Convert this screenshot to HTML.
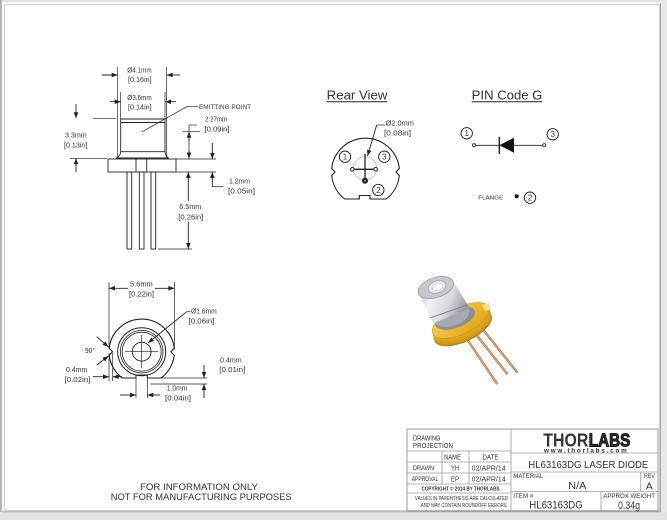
<!DOCTYPE html>
<html><head><meta charset="utf-8"><style>
html,body{margin:0;padding:0;background:#fff;}
svg{display:block;}
text{font-family:"Liberation Sans",sans-serif;fill:#333;}
</style></head><body>
<svg width="667" height="520" viewBox="0 0 667 520" xmlns="http://www.w3.org/2000/svg">
<defs>
<marker id="ar" viewBox="0 0 8 6" refX="8" refY="3" markerWidth="6.5" markerHeight="4.5" markerUnits="userSpaceOnUse" orient="auto"><path d="M0,0 L8,3 L0,6 z" fill="#222"/></marker>
<linearGradient id="capg" x1="0" y1="0" x2="1" y2="0.35">
<stop offset="0" stop-color="#b4b4bc"/><stop offset="0.35" stop-color="#f2f2f5"/><stop offset="0.7" stop-color="#d6d6dc"/><stop offset="1" stop-color="#9a9aa2"/>
</linearGradient>
<linearGradient id="goldt" x1="0" y1="0" x2="1" y2="1">
<stop offset="0" stop-color="#f7d35a"/><stop offset="0.6" stop-color="#eab52c"/><stop offset="1" stop-color="#d99a18"/>
</linearGradient>
</defs>

<!-- page frame -->
<rect x="0" y="0" width="667" height="520" fill="#fff"/>
<rect x="0" y="0" width="667" height="2" fill="#e2e2e2"/>
<rect x="0" y="0" width="2" height="520" fill="#b4b4b4"/>
<rect x="661" y="0" width="6" height="520" fill="#e8e8e8"/>
<rect x="0" y="512" width="667" height="8" fill="#e2e2e2"/>
<rect x="4.5" y="4.5" width="655" height="506" fill="none" stroke="#cfcfcf" stroke-width="1.2"/>
<line x1="660.5" y1="3" x2="660.5" y2="512" stroke="#a8a8a8" stroke-width="1"/>
<line x1="2" y1="511.8" x2="661" y2="511.8" stroke="#a8a8a8" stroke-width="1"/>

<g stroke="#222" stroke-width="0.9" fill="none">
<!-- ===== SIDE VIEW ===== -->
<path d="M120.7,119 H165 V151.7 Q165,155 168.3,158 H116.7 Q120.7,155 120.7,151.7 Z"/>
<line x1="120.7" y1="122.5" x2="165" y2="122.5"/>
<line x1="120.7" y1="151.7" x2="165" y2="151.7"/>
<rect x="108" y="159" width="68" height="13"/>
<line x1="136" y1="159" x2="136" y2="172"/>
<line x1="146.7" y1="159" x2="146.7" y2="172"/>
<rect x="127" y="172" width="4.7" height="77"/>
<rect x="139.3" y="172" width="4.7" height="77"/>
<rect x="151" y="172" width="4.7" height="77"/>
<!-- ext lines -->
<line x1="117.7" y1="67" x2="117.7" y2="158" stroke-width="0.7"/>
<line x1="166.7" y1="67" x2="166.7" y2="158" stroke-width="0.7"/>
<line x1="120.7" y1="92" x2="120.7" y2="119" stroke-width="0.7"/>
<line x1="165" y1="92" x2="165" y2="119" stroke-width="0.7"/>
<line x1="101.7" y1="75" x2="117.7" y2="75" marker-end="url(#ar)"/>
<line x1="180" y1="75" x2="166.7" y2="75" marker-end="url(#ar)"/>
<line x1="110" y1="101.7" x2="120.7" y2="101.7" marker-end="url(#ar)"/>
<line x1="176" y1="101.7" x2="165" y2="101.7" marker-end="url(#ar)"/>
<!-- emitting point -->
<polyline points="141.7,132 186.7,106.7 198,106.7" stroke-width="0.7"/>
<!-- 2.27 -->
<line x1="189" y1="125" x2="189" y2="158" stroke-width="0.7"/>
<line x1="189" y1="125" x2="197" y2="125" stroke-width="0.7"/>
<line x1="183" y1="131.7" x2="200" y2="131.7" stroke-width="0.7"/>
<line x1="189" y1="141" x2="189" y2="131.7" marker-end="url(#ar)"/>
<line x1="189" y1="150" x2="189" y2="158.5" marker-end="url(#ar)"/>
<!-- flange ext -->
<line x1="176" y1="159" x2="216" y2="159" stroke-width="0.7"/>
<line x1="176" y1="172" x2="216" y2="172" stroke-width="0.7"/>
<!-- 1.2 -->
<line x1="212.3" y1="143" x2="212.3" y2="159" marker-end="url(#ar)"/>
<line x1="212.3" y1="186.7" x2="212.3" y2="172" marker-end="url(#ar)"/>
<line x1="212.3" y1="186.7" x2="223.3" y2="186.7" stroke-width="0.7"/>
<!-- 6.5 -->
<line x1="188.3" y1="201" x2="188.3" y2="172" marker-end="url(#ar)"/>
<line x1="188.3" y1="222" x2="188.3" y2="249" marker-end="url(#ar)"/>
<line x1="158" y1="249" x2="192" y2="249" stroke-width="0.7"/>
<!-- 3.3 -->
<line x1="76" y1="104" x2="76" y2="118.3" marker-end="url(#ar)"/>
<line x1="76" y1="172.3" x2="76" y2="158.3" marker-end="url(#ar)"/>
<line x1="93" y1="118.3" x2="116" y2="118.3" stroke-width="0.7"/>
<line x1="70" y1="158.3" x2="107" y2="158.3" stroke-width="0.7"/>

<!-- ===== FRONT VIEW ===== -->
<path d="M122.3,378 A32.7,32.7 0 0 1 109.2,355.2 L112.5,351.7 L109.2,348.2 A32.7,32.7 0 0 1 174.2,348.2 L170.9,351.7 L174.2,355.2 A32.7,32.7 0 0 1 161.1,378 L147.3,378 L147.3,375 L136,375 L136,378 Z" stroke-width="1.1"/>
<circle cx="141.7" cy="351.7" r="24" stroke-width="1"/>
<circle cx="141.7" cy="351.7" r="21.3" stroke-width="0.8"/>
<circle cx="141.7" cy="351.7" r="19.5" stroke-width="0.8"/>
<circle cx="141.7" cy="351.7" r="9.4" stroke-width="0.9"/>
<line x1="125" y1="351.7" x2="158.4" y2="351.7" stroke-width="0.7"/>
<line x1="141.7" y1="335" x2="141.7" y2="368.4" stroke-width="0.7"/>
<!-- 5.6 -->
<line x1="109" y1="282" x2="109" y2="349" stroke-width="0.7"/>
<line x1="174.4" y1="282" x2="174.4" y2="349" stroke-width="0.7"/>
<line x1="128" y1="288.3" x2="109" y2="288.3" marker-end="url(#ar)"/>
<line x1="155" y1="288.3" x2="174.4" y2="288.3" marker-end="url(#ar)"/>
<!-- 1.6 -->
<line x1="186.7" y1="311.7" x2="148" y2="343" marker-end="url(#ar)"/>
<line x1="186.7" y1="311.7" x2="190.5" y2="311.7" stroke-width="0.7"/>
<!-- 90 -->
<line x1="96.7" y1="336.7" x2="108.5" y2="347" marker-end="url(#ar)"/>
<line x1="96.7" y1="365" x2="108.5" y2="356" marker-end="url(#ar)"/>
<!-- 0.4 left -->
<line x1="109" y1="353" x2="109" y2="381" stroke-width="0.7"/>
<line x1="112.7" y1="353" x2="112.7" y2="381" stroke-width="0.7"/>
<line x1="93" y1="376.7" x2="109" y2="376.7" marker-end="url(#ar)"/>
<line x1="122" y1="376.7" x2="112.7" y2="376.7" marker-end="url(#ar)"/>
<!-- 0.4 right -->
<line x1="161" y1="378" x2="207" y2="378" stroke-width="0.7"/>
<line x1="150" y1="384" x2="207" y2="384" stroke-width="0.7"/>
<line x1="204" y1="365" x2="204" y2="378" marker-end="url(#ar)"/>
<line x1="204" y1="398" x2="204" y2="384" marker-end="url(#ar)"/>
<!-- 1.0 -->
<line x1="136" y1="378" x2="136" y2="398" stroke-width="0.7"/>
<line x1="147.3" y1="378" x2="147.3" y2="398" stroke-width="0.7"/>
<line x1="120" y1="395" x2="136" y2="395" marker-end="url(#ar)"/>
<line x1="160" y1="395" x2="147.3" y2="395" marker-end="url(#ar)"/>

<!-- ===== REAR VIEW ===== -->
<line x1="326.7" y1="101.8" x2="387.3" y2="101.8" stroke-width="1"/>
<path d="M344.8,199 A34,34 0 0 1 331.7,175.5 L335,172 L331.7,168.5 A34,34 0 0 1 399.3,168.5 L396,172 L399.3,175.5 A34,34 0 0 1 386.2,199 L370,199 L370,195.5 L359.3,195.5 L359.3,199 Z" stroke-width="1.1"/>
<circle cx="365" cy="168.3" r="11.7" stroke="#bdbdbd" stroke-width="0.9"/>
<line x1="352.3" y1="169.3" x2="375.7" y2="169.3" stroke-width="1.4"/>
<circle cx="352.3" cy="169.3" r="1.8" fill="#fff" stroke-width="1"/>
<circle cx="375.7" cy="169.3" r="1.8" fill="#fff" stroke-width="1"/>
<line x1="365" y1="178" x2="365" y2="154" stroke-width="1.3"/>
<circle cx="365" cy="180.7" r="3" fill="#222" stroke="none"/>
<circle cx="365" cy="180.7" r="1" fill="#999" stroke="none"/>
<line x1="376.7" y1="125" x2="367.5" y2="156" marker-end="url(#ar)"/>
<line x1="376.7" y1="125" x2="385" y2="125" stroke-width="0.7"/>
<circle cx="345" cy="156.7" r="5.7" stroke-width="0.9"/>
<circle cx="384.3" cy="156.7" r="5.7" stroke-width="0.9"/>
<circle cx="378.3" cy="190" r="5.7" stroke-width="0.9"/>

<!-- ===== PIN CODE ===== -->
<line x1="471.7" y1="101.8" x2="542.3" y2="101.8" stroke-width="1"/>
<circle cx="466.7" cy="133.3" r="5.7" stroke-width="0.9"/>
<circle cx="552.7" cy="134.3" r="5.7" stroke-width="0.9"/>
<circle cx="530" cy="197.7" r="5.7" stroke-width="0.9"/>
<line x1="475.5" y1="145.3" x2="542.8" y2="145.3" stroke-width="0.9"/>
<circle cx="474" cy="145.3" r="1.6" fill="#fff" stroke-width="0.8"/>
<circle cx="544.3" cy="145.3" r="1.6" fill="#fff" stroke-width="0.8"/>
<line x1="499.3" y1="136.7" x2="499.3" y2="154" stroke-width="1.4"/>
<polygon points="499.3,145.3 514,137.7 514,152.7" fill="#111" stroke="none"/>
<circle cx="516.7" cy="196.3" r="2" fill="#111" stroke="none"/>
</g>

<!-- ===== TEXT: side view ===== -->
<g font-size="7">
<text x="127.3" y="72.5" textLength="24.4" lengthAdjust="spacingAndGlyphs">Ø4.1mm</text>
<text x="128" y="82" textLength="23.7" lengthAdjust="spacingAndGlyphs">[0.16in]</text>
<text x="127.3" y="100" textLength="24.4" lengthAdjust="spacingAndGlyphs">Ø3.6mm</text>
<text x="128" y="109.3" textLength="23.7" lengthAdjust="spacingAndGlyphs">[0.14in]</text>
<text x="199" y="109" font-size="6" textLength="52" lengthAdjust="spacingAndGlyphs">EMITTING POINT</text>
<text x="205" y="121.5" textLength="22" lengthAdjust="spacingAndGlyphs">2.27mm</text>
<text x="204.5" y="131.5" textLength="25" lengthAdjust="spacingAndGlyphs">[0.09in]</text>
<text x="229" y="183.5" textLength="21" lengthAdjust="spacingAndGlyphs">1.2mm</text>
<text x="228" y="193.5" textLength="27" lengthAdjust="spacingAndGlyphs">[0.05in]</text>
<text x="179.3" y="209" textLength="22" lengthAdjust="spacingAndGlyphs">6.5mm</text>
<text x="178.3" y="219.5" textLength="25" lengthAdjust="spacingAndGlyphs">[0.26in]</text>
<text x="65" y="137.5" textLength="21.7" lengthAdjust="spacingAndGlyphs">3.3mm</text>
<text x="64" y="147.5" textLength="23.3" lengthAdjust="spacingAndGlyphs">[0.13in]</text>
<!-- front view -->
<text x="130" y="286.5" textLength="22.7" lengthAdjust="spacingAndGlyphs">5.6mm</text>
<text x="129" y="296.5" textLength="25" lengthAdjust="spacingAndGlyphs">[0.22in]</text>
<text x="191" y="313.5" textLength="25.7" lengthAdjust="spacingAndGlyphs">Ø1.6mm</text>
<text x="188.5" y="323.3" textLength="26" lengthAdjust="spacingAndGlyphs">[0.06in]</text>
<text x="85" y="353" textLength="10" lengthAdjust="spacingAndGlyphs">90°</text>
<text x="66" y="372" textLength="21.3" lengthAdjust="spacingAndGlyphs">0.4mm</text>
<text x="64.5" y="382" textLength="26" lengthAdjust="spacingAndGlyphs">[0.02in]</text>
<text x="220" y="362.5" textLength="21.7" lengthAdjust="spacingAndGlyphs">0.4mm</text>
<text x="219.3" y="372" textLength="26" lengthAdjust="spacingAndGlyphs">[0.01in]</text>
<text x="166.7" y="390.5" textLength="20.7" lengthAdjust="spacingAndGlyphs">1.0mm</text>
<text x="165" y="400.5" textLength="26" lengthAdjust="spacingAndGlyphs">[0.04in]</text>
<!-- rear view -->
<text x="385.5" y="125.5" textLength="28.5" lengthAdjust="spacingAndGlyphs">Ø2.0mm</text>
<text x="384" y="135.3" textLength="27" lengthAdjust="spacingAndGlyphs">[0.08in]</text>
</g>
<g font-size="8" text-anchor="middle" fill="#222">
<text x="345" y="159.6">1</text>
<text x="384.3" y="159.6">3</text>
<text x="378.3" y="192.9">2</text>
<text x="466.7" y="136.2">1</text>
<text x="552.7" y="137.2">3</text>
<text x="530" y="200.6">2</text>
</g>
<text x="326.7" y="99.5" font-size="12.5" textLength="60.7" lengthAdjust="spacingAndGlyphs" fill="#111">Rear View</text>
<text x="471.7" y="99.5" font-size="12.5" textLength="70.7" lengthAdjust="spacingAndGlyphs" fill="#111">PIN Code G</text>
<text x="478.3" y="199.7" font-size="5.5" textLength="25" lengthAdjust="spacingAndGlyphs">FLANGE</text>

<!-- ===== 3D RENDER ===== -->
<g stroke-linecap="round">
<line x1="465" y1="336" x2="496.7" y2="383.3" stroke="#b8794c" stroke-width="2.4"/>
<line x1="475" y1="333" x2="506.7" y2="373.3" stroke="#b8794c" stroke-width="2.4"/>
<line x1="483.3" y1="330" x2="516.7" y2="371.7" stroke="#b8794c" stroke-width="2.4"/>
<line x1="465" y1="336" x2="496.7" y2="383.3" stroke="#e6b08a" stroke-width="0.8"/>
<line x1="475" y1="333" x2="506.7" y2="373.3" stroke="#e6b08a" stroke-width="0.8"/>
<line x1="483.3" y1="330" x2="516.7" y2="371.7" stroke="#e6b08a" stroke-width="0.8"/>
</g>
<g>
<ellipse cx="463" cy="328" rx="31" ry="13.5" transform="rotate(-25 463 328)" fill="#c88c12" stroke="#a8700a" stroke-width="0.6"/>
<ellipse cx="462.6" cy="326.5" rx="31" ry="13.5" transform="rotate(-25 462.6 326.5)" fill="#d29816"/>
<ellipse cx="462.2" cy="325" rx="31" ry="13.5" transform="rotate(-25 462.2 325)" fill="#d89e1a"/>
<ellipse cx="461.8" cy="323.5" rx="31" ry="13.5" transform="rotate(-25 461.8 323.5)" fill="#dca31e"/>
<ellipse cx="461.4" cy="322" rx="31" ry="13.5" transform="rotate(-25 461.4 322)" fill="#e0a822"/>
<ellipse cx="461" cy="320.5" rx="31" ry="13.5" transform="rotate(-25 461 320.5)" fill="url(#goldt)" stroke="#c99418" stroke-width="0.6"/>
<path d="M482,305 L489,303 L491,309 L485,311 Z" fill="#f8e08a"/>
<ellipse cx="455" cy="318" rx="21" ry="10" transform="rotate(-20 455 318)" fill="#8e8e96"/>
<!-- cap body -->
<ellipse cx="451.7" cy="315.8" rx="18.4" ry="10" transform="rotate(-18.3 451.7 315.8)" fill="#a8a8b0"/>
<polygon points="418.3,293.3 453.3,281.7 470,308.3 433.3,323.3" fill="url(#capg)"/>
<path d="M430,318 L467,305" stroke="#8a8a92" stroke-width="1" fill="none"/>
<ellipse cx="435.8" cy="287.5" rx="18.4" ry="10" transform="rotate(-18.3 435.8 287.5)" fill="#c8c8ce" stroke="#8c8c94" stroke-width="0.6"/>
<ellipse cx="437" cy="287" rx="9" ry="6" transform="rotate(-18.3 437 287)" fill="#e6e8ee" stroke="#9a9aa2" stroke-width="0.6"/>
<ellipse cx="437.5" cy="287" rx="5.5" ry="3.6" transform="rotate(-18.3 437.5 287)" fill="#fbfbfd" stroke="#b0b0b8" stroke-width="0.4"/>
</g>

<!-- ===== bottom notice ===== -->
<text x="140" y="490" font-size="9.5" textLength="118" lengthAdjust="spacingAndGlyphs" fill="#2a2a33">FOR INFORMATION ONLY</text>
<text x="110.7" y="500" font-size="9.5" textLength="181" lengthAdjust="spacingAndGlyphs" fill="#2a2a33">NOT FOR MANUFACTURING PURPOSES</text>

<!-- ===== TITLE BLOCK ===== -->
<g stroke="#9a9a9a" stroke-width="0.8" fill="none">
<rect x="407" y="429" width="251" height="82" stroke-width="1"/>
<line x1="511" y1="429" x2="511" y2="511"/>
<line x1="407" y1="451" x2="511" y2="451"/>
<line x1="407" y1="462" x2="511" y2="462"/>
<line x1="407" y1="473" x2="511" y2="473"/>
<line x1="407" y1="484" x2="511" y2="484"/>
<line x1="407" y1="493" x2="511" y2="493"/>
<line x1="442" y1="451" x2="442" y2="484"/>
<line x1="469" y1="451" x2="469" y2="484"/>
<line x1="511" y1="453" x2="658" y2="453"/>
<line x1="511" y1="472" x2="658" y2="472"/>
<line x1="511" y1="491.5" x2="658" y2="491.5"/>
<line x1="640.7" y1="472" x2="640.7" y2="491.5"/>
<line x1="601" y1="491.5" x2="601" y2="511"/>
</g>
<g fill="#3a3a3a">
<text x="413" y="440.5" font-size="7.5" textLength="27.5" lengthAdjust="spacingAndGlyphs">DRAWING</text>
<text x="413" y="447.8" font-size="7.5" textLength="40" lengthAdjust="spacingAndGlyphs">PROJECTION</text>
<text x="444" y="459.5" font-size="7" textLength="17" lengthAdjust="spacingAndGlyphs">NAME</text>
<text x="482.5" y="459.5" font-size="7" textLength="16" lengthAdjust="spacingAndGlyphs">DATE</text>
<text x="412.7" y="470" font-size="6" textLength="21.5" lengthAdjust="spacingAndGlyphs">DRAWN</text>
<text x="451" y="470.5" font-size="7" textLength="8" lengthAdjust="spacingAndGlyphs">YH</text>
<text x="471.7" y="470.5" font-size="7" textLength="34" lengthAdjust="spacingAndGlyphs">02/APR/14</text>
<text x="411.7" y="481" font-size="6" textLength="26.6" lengthAdjust="spacingAndGlyphs">APPROVAL</text>
<text x="451" y="481.5" font-size="7" textLength="8" lengthAdjust="spacingAndGlyphs">EP</text>
<text x="471.7" y="481.5" font-size="7" textLength="34" lengthAdjust="spacingAndGlyphs">02/APR/14</text>
<text x="421.5" y="490.7" font-size="5.5" font-weight="bold" textLength="78" lengthAdjust="spacingAndGlyphs">COPYRIGHT © 2014 BY THORLABS</text>
<text x="415" y="500" font-size="5" textLength="93" lengthAdjust="spacingAndGlyphs">VALUES IN PARENTHESIS ARE CALCULATED</text>
<text x="420.7" y="507" font-size="5" textLength="86" lengthAdjust="spacingAndGlyphs">AND MAY CONTAIN ROUNDOFF ERRORS</text>
<text x="543.3" y="446.7" font-size="18" font-weight="bold" textLength="45" lengthAdjust="spacingAndGlyphs" fill="#111">THOR</text>
<text x="588.8" y="446.7" font-size="18" font-weight="bold" textLength="41.5" lengthAdjust="spacingAndGlyphs" fill="#fff" stroke="#111" stroke-width="1">LABS</text>
<text x="544" y="452.6" font-size="6.3" font-weight="bold" textLength="82.7" lengthAdjust="spacing" fill="#333">www.thorlabs.com</text>
<text x="528.3" y="468" font-size="10.5" textLength="120" lengthAdjust="spacingAndGlyphs">HL63163DG LASER DIODE</text>
<text x="513.3" y="478" font-size="6.5" textLength="30" lengthAdjust="spacingAndGlyphs">MATERIAL</text>
<text x="568.3" y="489" font-size="10.5" textLength="18" lengthAdjust="spacingAndGlyphs">N/A</text>
<text x="644" y="478" font-size="6.5" textLength="11" lengthAdjust="spacingAndGlyphs">REV</text>
<text x="649.3" y="489.5" font-size="10.5" text-anchor="middle">A</text>
<text x="513.3" y="498" font-size="6.5" textLength="20" lengthAdjust="spacingAndGlyphs">ITEM #</text>
<text x="529.3" y="508.5" font-size="11" textLength="53.4" lengthAdjust="spacingAndGlyphs">HL63163DG</text>
<text x="603.3" y="498" font-size="6.5" textLength="51.7" lengthAdjust="spacingAndGlyphs">APPROX WEIGHT</text>
<text x="618" y="509" font-size="11" textLength="22" lengthAdjust="spacingAndGlyphs">0.34g</text>
</g>
</svg>
</body></html>
